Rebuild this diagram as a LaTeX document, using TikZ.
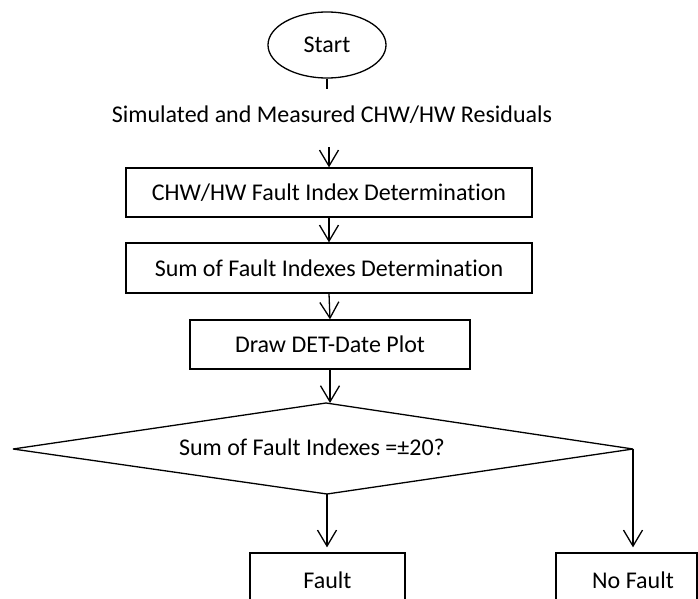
\documentclass[tikz,border=0pt]{standalone}
\usepackage{fontspec}
\setmainfont[Ligatures=NoCommon]{Carlito}
\usetikzlibrary{arrows.meta,shapes.geometric}
\begin{document}
\begin{tikzpicture}[x=1pt,y=-1pt,
  line width=1.3pt,
  every node/.style={font=\fontsize{24}{28}\selectfont, inner sep=0pt},
  box/.style={draw, rectangle, line width=1.3pt},
  flow/.style={-{Straight Barb[length=16pt,width=19pt,line width=1.3pt]}},
  plain/.style={-}]
  \useasboundingbox (0,0) rectangle (698,599);
  \clip (0,0) rectangle (698,599);

  % start terminal
  \node[draw, ellipse, minimum width=118, minimum height=66] (start) at (327,45) {Start};
  \coordinate (stemend) at (327,89);

  % input data line
  \node (inp) at (332,115) {Simulated and Measured CHW/HW Residuals};
  \coordinate (inarrow) at (329,147);

  % process boxes
  \node[box, minimum width=406, minimum height=49] (fi)  at (329,192.5) {CHW/HW Fault Index Determination};
  \node[box, minimum width=406, minimum height=50] (sfi) at (329,268)   {Sum of Fault Indexes Determination};
  \node[box, minimum width=280, minimum height=49] (plot) at (330,344.5) {Draw DET-Date Plot};

  % decision
  \coordinate (dtop)   at (326,403);
  \coordinate (dleft)  at (13,449);
  \coordinate (dbot)   at (327,494);
  \coordinate (dright) at (633,449);
  \draw[miter limit=2] (dtop) -- (dright) -- (dbot) -- (dleft) -- cycle;
  \node (dec) at (312,447) {Sum of Fault Indexes =±20?};

  % outcomes
  \node[box, minimum width=155, minimum height=54] (fault)   at (327.5,580) {Fault};
  \node[box, minimum width=141, minimum height=54] (nofault) at (626.5,580) {\hspace*{13pt}No Fault};

  % connectors
  \draw[plain] (start.south) -- (stemend);
  \draw[flow] (inarrow) -- (fi.north);
  \draw[flow] (fi.south) -- (sfi.north);
  \draw[flow] (sfi.south) -- (plot.north);
  \draw[flow] (plot.south) -- (plot.south |- dtop);
  \draw[flow, shorten >=5pt] (dbot) -- (dbot |- fault.north);
  \draw[flow, shorten >=5pt] (dright) -- (dright |- nofault.north);
\end{tikzpicture}
\end{document}
